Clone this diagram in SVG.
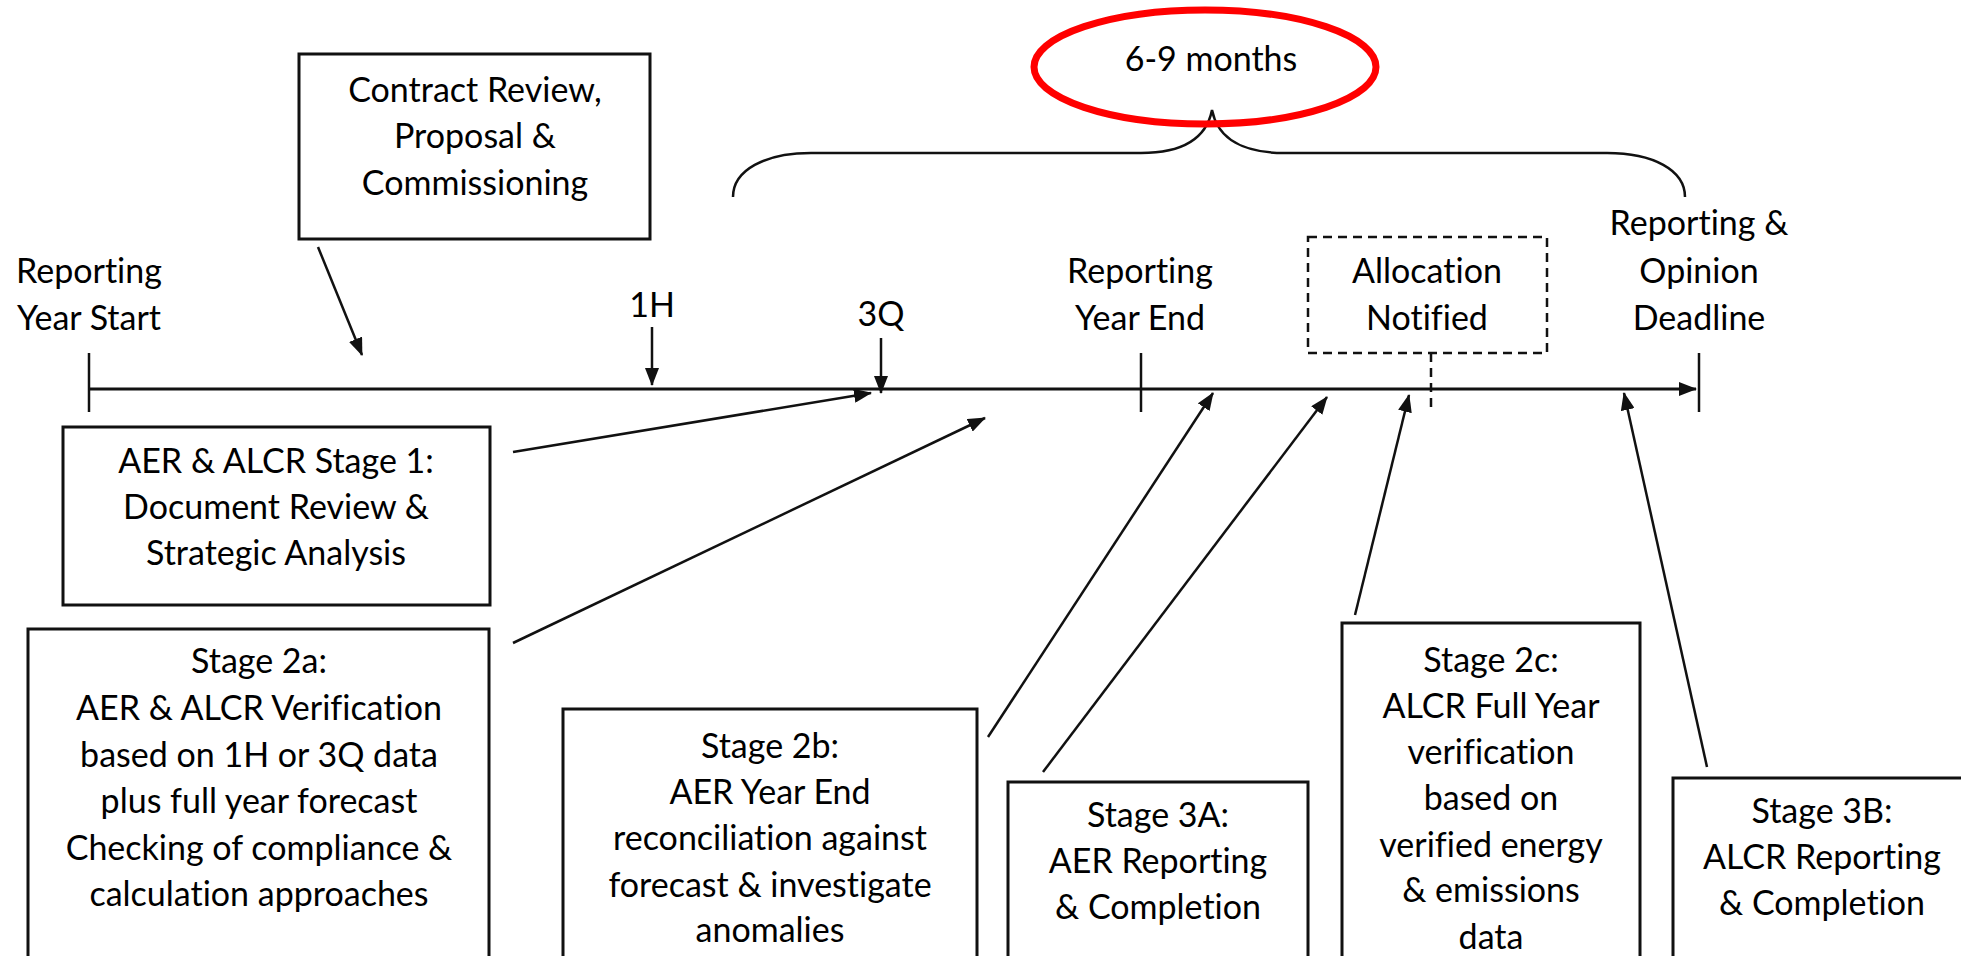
<svg xmlns="http://www.w3.org/2000/svg" width="1961" height="956" viewBox="0 0 1961 956">
  <defs>
    <style>
      .lbl { font-family: Lato, "Liberation Sans", sans-serif; font-size: 34px; fill: #000; text-anchor: middle; font-variant-ligatures: none; }
      .box { fill: #fff; stroke: #111; stroke-width: 3; }
      .dash { fill: #fff; stroke: #111; stroke-width: 2.5; stroke-dasharray: 9 6; }
      .ln { fill: none; stroke: #111; stroke-width: 2.5; }
      .arr { fill: none; stroke: #111; stroke-width: 2.5; marker-end: url(#head); }
    </style>
    <marker id="head" markerUnits="userSpaceOnUse" viewBox="0 0 18 14" markerWidth="18" markerHeight="14" refX="17" refY="7" orient="auto">
      <path d="M0,0 L18,7 L0,14 Z" fill="#111"/>
    </marker>
  </defs>
  <rect width="1961" height="956" fill="#fff"/>

  <!-- timeline axis -->
  <g id="timeline">
    <line x1="89" y1="389" x2="1696" y2="389" stroke="#111" stroke-width="3" marker-end="url(#head)"/>
    <line class="ln" x1="89" y1="353" x2="89" y2="412"/>
    <line class="ln" x1="1141" y1="353" x2="1141" y2="412"/>
    <line class="ln" x1="1699" y1="353" x2="1699" y2="412"/>
  </g>

  <!-- milestone labels -->
  <g id="year-start">
    <text class="lbl" x="89" y="283">Reporting</text>
    <text class="lbl" x="89" y="330">Year Start</text>
  </g>
  <g id="half-year">
    <text class="lbl" x="652" y="317">1H</text>
  </g>
  <g id="three-quarter">
    <text class="lbl" x="881" y="326">3Q</text>
  </g>
  <g id="year-end">
    <text class="lbl" x="1140" y="283">Reporting</text>
    <text class="lbl" x="1140" y="330">Year End</text>
  </g>
  <g id="deadline">
    <text class="lbl" x="1699" y="235">Reporting &amp;</text>
    <text class="lbl" x="1699" y="283">Opinion</text>
    <text class="lbl" x="1699" y="330">Deadline</text>
  </g>

  <!-- duration bracket -->
  <g id="duration">
    <path class="ln" d="M733,197 C733,170 765,153 811,153 L1141,153 C1180,153 1206,140 1212,110 C1218,140 1245,153 1284,153 L1607,153 C1653,153 1685,170 1685,197"/>
    <ellipse cx="1205" cy="67" rx="171" ry="57" fill="none" stroke="#ff0000" stroke-width="7"/>
    <text class="lbl" x="1211" y="71">6-9 months</text>
  </g>

  <!-- boxes -->
  <g id="contract">
    <rect class="box" x="299" y="54" width="351" height="185"/>
    <text class="lbl" x="475" y="102">Contract Review,</text>
    <text class="lbl" x="475" y="148">Proposal &amp;</text>
    <text class="lbl" x="475" y="195">Commissioning</text>
  </g>
  <g id="allocation">
    <rect class="dash" x="1308" y="237" width="239" height="116"/>
    <text class="lbl" x="1427" y="283">Allocation</text>
    <text class="lbl" x="1427" y="330">Notified</text>
  </g>
  <g id="stage1">
    <rect class="box" x="63" y="427" width="427" height="178"/>
    <text class="lbl" x="276" y="473">AER &amp; ALCR Stage 1:</text>
    <text class="lbl" x="276" y="519">Document Review &amp;</text>
    <text class="lbl" x="276" y="565">Strategic Analysis</text>
  </g>
  <g id="stage2a">
    <rect class="box" x="28" y="629" width="461" height="345"/>
    <text class="lbl" x="259" y="673">Stage 2a:</text>
    <text class="lbl" x="259" y="720">AER &amp; ALCR Verification</text>
    <text class="lbl" x="259" y="767">based on 1H or 3Q data</text>
    <text class="lbl" x="259" y="813">plus full year forecast</text>
    <text class="lbl" x="259" y="860">Checking of compliance &amp;</text>
    <text class="lbl" x="259" y="906">calculation approaches</text>
  </g>
  <g id="stage2b">
    <rect class="box" x="563" y="709" width="414" height="265"/>
    <text class="lbl" x="770" y="758">Stage 2b:</text>
    <text class="lbl" x="770" y="804">AER Year End</text>
    <text class="lbl" x="770" y="850">reconciliation against</text>
    <text class="lbl" x="770" y="897">forecast &amp; investigate</text>
    <text class="lbl" x="770" y="942">anomalies</text>
  </g>
  <g id="stage3a">
    <rect class="box" x="1008" y="782" width="300" height="192"/>
    <text class="lbl" x="1158" y="827">Stage 3A:</text>
    <text class="lbl" x="1158" y="873">AER Reporting</text>
    <text class="lbl" x="1158" y="919">&amp; Completion</text>
  </g>
  <g id="stage2c">
    <rect class="box" x="1342" y="623" width="298" height="351"/>
    <text class="lbl" x="1491" y="672">Stage 2c:</text>
    <text class="lbl" x="1491" y="718">ALCR Full Year</text>
    <text class="lbl" x="1491" y="764">verification</text>
    <text class="lbl" x="1491" y="810">based on</text>
    <text class="lbl" x="1491" y="857">verified energy</text>
    <text class="lbl" x="1491" y="902">&amp; emissions</text>
    <text class="lbl" x="1491" y="949">data</text>
  </g>
  <g id="stage3b">
    <rect class="box" x="1673" y="778" width="320" height="196"/>
    <text class="lbl" x="1822" y="823">Stage 3B:</text>
    <text class="lbl" x="1822" y="869">ALCR Reporting</text>
    <text class="lbl" x="1822" y="915">&amp; Completion</text>
  </g>

  <!-- connectors -->
  <g id="connectors">
    <line class="arr" x1="318" y1="247" x2="362" y2="355"/>
    <line class="arr" x1="652" y1="327" x2="652" y2="385"/>
    <line class="arr" x1="881" y1="338" x2="881" y2="393"/>
    <line class="arr" x1="513" y1="452" x2="871" y2="393"/>
    <line class="arr" x1="513" y1="643" x2="985" y2="418"/>
    <line class="arr" x1="988" y1="737" x2="1213" y2="393"/>
    <line class="arr" x1="1043" y1="772" x2="1327" y2="397"/>
    <line class="arr" x1="1355" y1="615" x2="1409" y2="395"/>
    <line class="arr" x1="1707" y1="767" x2="1624" y2="393"/>
    <line class="dash" x1="1431" y1="353" x2="1431" y2="412"/>
  </g>
</svg>
